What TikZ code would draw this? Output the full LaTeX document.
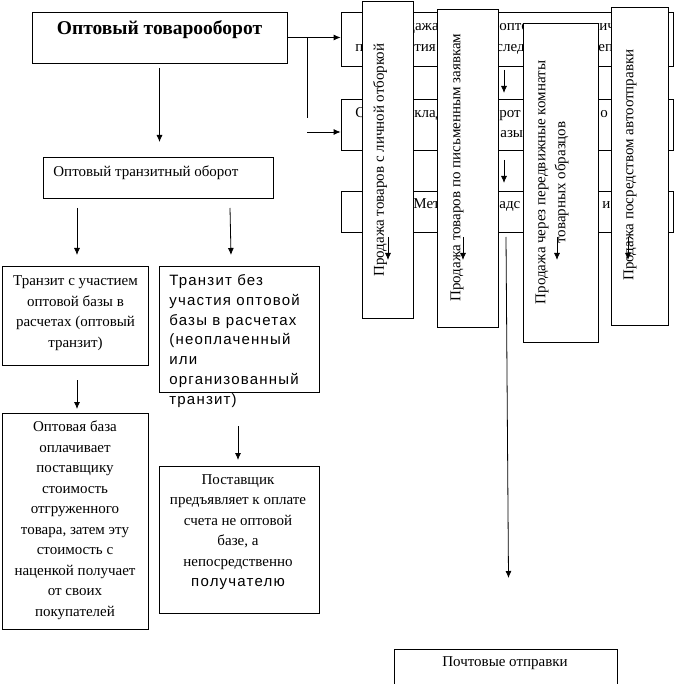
\documentclass[tikz,border=0pt]{standalone}
\usepackage{fontspec}
\setmainfont{Liberation Serif}
\newfontfamily\sansfam[LetterSpace=8]{Liberation Sans}
\usetikzlibrary{arrows.meta}

\begin{document}
\begin{tikzpicture}[x=1pt, y=-1pt, line width=0.8pt, >={Latex[length=7pt,width=6pt]},
  box/.style={draw, fill=white, inner sep=0pt},
  txt/.style={inner sep=0pt, font=\fontsize{15}{20.5}\selectfont},
  frag/.style={txt, anchor=base west},
  sans/.style={inner sep=0pt, font=\sansfam\fontsize{15}{19.7}\selectfont}]
  \useasboundingbox (0,0) rectangle (674,684);

  % left column
  \node[box, minimum width=255, minimum height=51] (whole) at (159.5,37.5) {};
  \node[txt, font=\bfseries\fontsize{19.5}{20}\selectfont] (wholetxt) at (159.5,30) {Оптовый товарооборот};
  \node[box, minimum width=230, minimum height=41] (trans) at (158,177.5) {};
  \node[txt, anchor=west] (transtxt) at (53,173) {Оптовый транзитный оборот};
  \node[box, minimum width=146, minimum height=99] (withbase) at (75,315.5) {};
  \node[txt, align=center] (withbasetxt) at (75.5,313) {Транзит с участием\\ оптовой базы в\\ расчетах (оптовый\\ транзит)};
  \node[box, minimum width=160, minimum height=126] (nobase) at (239,329) {};
  \node[sans, align=left, anchor=west] (nobasetxt) at (169,341) {Транзит без\\ участия оптовой\\ базы в расчетах\\ (неоплаченный\\ или\\ организованный\\ транзит)};
  \node[box, minimum width=146, minimum height=216] (basepay) at (75,521) {};
  \node[txt, align=center] (basepaytxt) at (75,520) {Оптовая база\\ оплачивает\\ поставщику\\ стоимость\\ отгруженного\\ товара, затем эту\\ стоимость с\\ наценкой получает\\ от своих\\ покупателей};
  \node[box, minimum width=160, minimum height=147] (supplier) at (239,539.5) {};
  \node[txt, align=center] (suppliertxt) at (238,532) {Поставщик\\ предъявляет к оплате\\ счета не оптовой\\ базе, а\\ непосредственно\\ {\sansfam\fontsize{15}{19.7}\selectfont получателю}};

  \coordinate (a1) at (159.5,68);   \coordinate (a1e) at (159.5,142);
  \coordinate (a2) at (77,208);     \coordinate (a2e) at (77,255);
  \coordinate (a3) at (230,208);    \coordinate (a3e) at (231,255);
  \coordinate (a4) at (77,380);     \coordinate (a4e) at (77,409);
  \coordinate (a5) at (238,426);    \coordinate (a5e) at (238,460);
  \draw[->] (a1) -- (a1e);
  \draw[->] (a2) -- (a2e);
  \draw[->] (a3) -- (a3e);
  \draw[->] (a4) -- (a4e);
  \draw[->] (a5) -- (a5e);

  % right part: rows
  \node[box, minimum width=332, minimum height=54] (rowA) at (507,39) {};
  \node[box, minimum width=332, minimum height=51] (rowB) at (507,124.5) {};
  \node[box, minimum width=332, minimum height=41] (rowC) at (507,211.5) {};
  \node[frag] (fa1) at (407,30.5) {дажа};
  \node[frag] (fa2) at (499,30.5) {опто};
  \node[frag] (fa3) at (599,30.5) {ич};
  \node[frag] (fa4) at (355,51.5) {п};
  \node[frag] (fa5) at (407,51.5) {ятия};
  \node[frag] (fa6) at (496,51.5) {след};
  \node[frag] (fa7) at (598,51.5) {еп};
  \node[frag] (fb1) at (355,117.5) {С};
  \node[frag] (fb2) at (414,117.5) {клад};
  \node[frag] (fb3) at (499,117.5) {рот};
  \node[frag] (fb4) at (600,117.5) {о};
  \node[frag] (fb5) at (500,137.5) {азы)};
  \node[frag] (fc1) at (413,208.5) {Мет};
  \node[frag] (fc2) at (499,208.5) {адс};
  \node[frag] (fc3) at (602,208.5) {и};

  \draw[->] (whole.east) -- (whole.east -| rowA.west);
  \coordinate (jn) at (307,37.5);  \coordinate (jne) at (307,118);
  \coordinate (b2) at (307,132);
  \draw (jn) -- (jne);
  \draw[->] (b2) -- (b2 -| rowB.west);
  \coordinate (r1) at (504,70);    \coordinate (r1e) at (504,93);
  \coordinate (r2) at (504,160);   \coordinate (r2e) at (504,183);
  \draw[->] (r1) -- (r1e);
  \draw[->] (r2) -- (r2e);

  % right part: columns over the rows
  \node[box, minimum width=51, minimum height=317] (pick) at (387.5,159.5) {};
  \node[txt, rotate=90] (picktxt) at (380,160) {Продажа товаров с личной отборкой};
  \node[box, minimum width=61, minimum height=318] (order) at (467.5,168) {};
  \node[txt, rotate=90] (ordertxt) at (457,167.5) {Продажа товаров по письменным заявкам};
  \node[box, minimum width=75, minimum height=319] (room) at (560.5,182.5) {};
  \node[txt, rotate=90, align=center, font=\fontsize{15}{20}\selectfont] (roomtxt) at (552,182.5) {Продажа через передвижные комнаты\\ товарных образцов};
  \node[box, minimum width=57, minimum height=318] (auto) at (639.5,166) {};
  \node[txt, rotate=90] (autotxt) at (630,165) {Продажа посредством автоотправки};

  \foreach \x [count=\i] in {388,463,557,628} {
    \coordinate (d\i) at (\x,237);
    \coordinate (d\i e) at (\x,260);
    \draw[->] (d\i) -- (d\i e);
  }

  \node[box, minimum width=223, minimum height=51] (mail) at (505.5,674.5) {};
  \node[txt] (mailtxt) at (505,663) {Почтовые отправки};
  \coordinate (m1) at (506,237);   \coordinate (m1e) at (508.5,578);
  \draw[->] (m1) -- (m1e);
\end{tikzpicture}
\end{document}
